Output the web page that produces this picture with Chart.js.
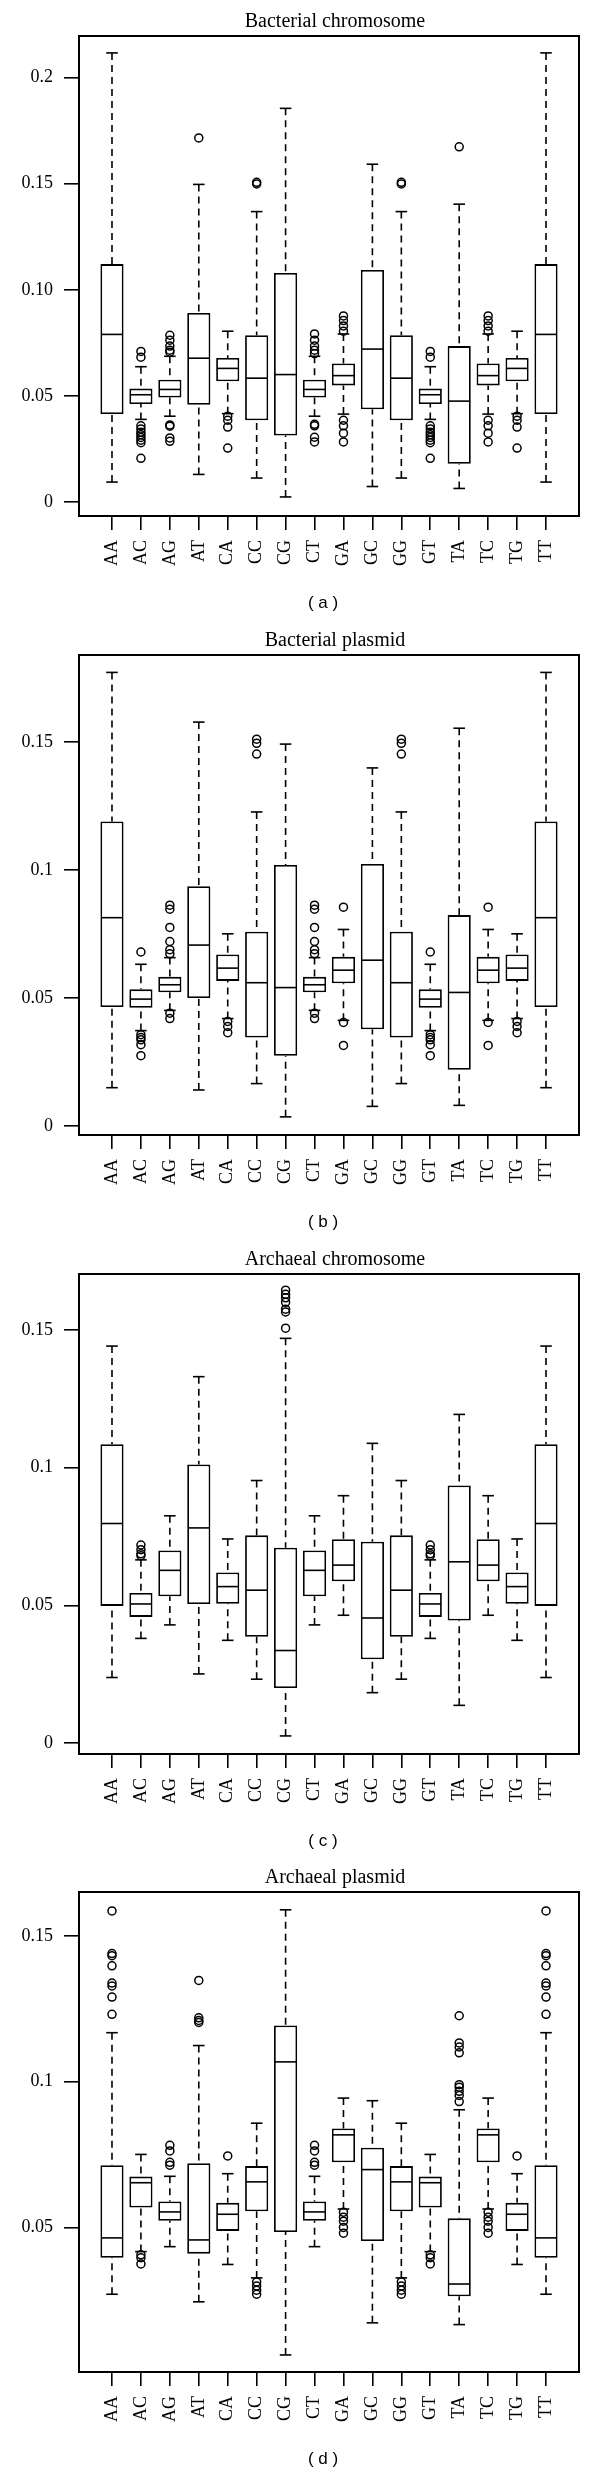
<!DOCTYPE html>
<html>
<head>
<meta charset="utf-8">
<script src="https://cdn.jsdelivr.net/npm/chart.js@4.4.0/dist/chart.umd.min.js"></script>
<style>
body { margin: 0; background: #fff; }
.panel { position: absolute; left: 0; width: 600px; height: 619px; }
</style>
</head>
<body>
<div class="panel" style="top:0px"><canvas id="chartA" width="600" height="619"></canvas></div>
<div class="panel" style="top:619px"><canvas id="chartB" width="600" height="619"></canvas></div>
<div class="panel" style="top:1238px"><canvas id="chartC" width="600" height="619"></canvas></div>
<div class="panel" style="top:1856px"><canvas id="chartD" width="600" height="619"></canvas></div>
<script>
// dinucleotides on the x axis
const categories = ['AA','AC','AG','AT','CA','CC','CG','CT','GA','GC','GG','GT','TA','TC','TG','TT'];

// --- (a) Bacterial chromosome ---
const bcLow  = [0.0095,0.0390,0.0405,0.0131,0.0417,0.0114,0.0025,0.0405,0.0415,0.0074,0.0114,0.0390,0.0065,0.0415,0.0417,0.0095];
const bcQ1   = [0.0415,0.0462,0.0493,0.0459,0.0569,0.0386,0.0314,0.0493,0.0550,0.0438,0.0386,0.0462,0.0181,0.0550,0.0569,0.0415];
const bcMed  = [0.0790,0.0506,0.0531,0.0678,0.0630,0.0584,0.0601,0.0531,0.0596,0.0721,0.0584,0.0506,0.0476,0.0596,0.0630,0.0790];
const bcQ3   = [0.1121,0.0535,0.0577,0.0891,0.0679,0.0786,0.1079,0.0577,0.0653,0.1093,0.0786,0.0535,0.0735,0.0653,0.0679,0.1121];
const bcHigh = [0.2115,0.0638,0.0687,0.1496,0.0805,0.1368,0.1854,0.0687,0.0792,0.1591,0.1368,0.0638,0.1403,0.0792,0.0805,0.2115];
const bcOut  = [
  [],
  [0.0710,0.0683,0.0360,0.0345,0.0330,0.0318,0.0305,0.0292,0.0280,0.0207],
  [0.0786,0.0763,0.0735,0.0716,0.0706,0.0364,0.0358,0.0303,0.0287],
  [0.1715],
  [0.0405,0.0386,0.0354,0.0255],
  [0.1506,0.1498],
  [],
  [0.0792,0.0763,0.0735,0.0716,0.0700,0.0367,0.0360,0.0306,0.0284],
  [0.0877,0.0855,0.0830,0.0805,0.0386,0.0360,0.0325,0.0284],
  [],
  [0.1506,0.1498],
  [0.0710,0.0683,0.0360,0.0345,0.0330,0.0318,0.0305,0.0292,0.0280,0.0207],
  [0.1673],
  [0.0877,0.0855,0.0830,0.0805,0.0386,0.0360,0.0325,0.0284],
  [0.0405,0.0386,0.0354,0.0255],
  []
];
const bcRange = [-0.00647, 0.21945];
const bcTicks = [0, 0.05, 0.10, 0.15, 0.2];
const bcTickLabels = ['0','0.05','0.10','0.15','0.2'];

// --- (b) Bacterial plasmid ---
const bpLow  = [0.0150,0.0373,0.0452,0.0141,0.0420,0.0166,0.0036,0.0452,0.0413,0.0077,0.0166,0.0373,0.0081,0.0413,0.0420,0.0150];
const bpQ1   = [0.0465,0.0462,0.0523,0.0500,0.0567,0.0346,0.0275,0.0523,0.0558,0.0378,0.0346,0.0462,0.0220,0.0558,0.0567,0.0465];
const bpMed  = [0.0814,0.0496,0.0552,0.0707,0.0617,0.0560,0.0541,0.0552,0.0609,0.0648,0.0560,0.0496,0.0522,0.0609,0.0617,0.0814];
const bpQ3   = [0.1190,0.0534,0.0583,0.0937,0.0670,0.0759,0.1020,0.0583,0.0661,0.1024,0.0759,0.0534,0.0824,0.0661,0.0670,0.1190];
const bpHigh = [0.1772,0.0632,0.0658,0.1578,0.0751,0.1227,0.1492,0.0658,0.0768,0.1399,0.1227,0.0632,0.1554,0.0768,0.0751,0.1772];
const bpOut  = [
  [],
  [0.0680,0.0357,0.0346,0.0337,0.0318,0.0275],
  [0.0863,0.0847,0.0776,0.0721,0.0689,0.0673,0.0441,0.0420],
  [],
  [0.0409,0.0389,0.0365],
  [0.1511,0.1495,0.1453],
  [],
  [0.0863,0.0847,0.0776,0.0721,0.0689,0.0673,0.0441,0.0420],
  [0.0855,0.0405,0.0315],
  [],
  [0.1511,0.1495,0.1453],
  [0.0680,0.0357,0.0346,0.0337,0.0318,0.0275],
  [],
  [0.0855,0.0405,0.0315],
  [0.0409,0.0389,0.0365],
  []
];
const bpRange = [-0.00348, 0.1840];
const bpTicks = [0, 0.05, 0.1, 0.15];
const bpTickLabels = ['0','0.05','0.1','0.15'];

// --- (c) Archaeal chromosome ---
const acLow  = [0.0238,0.0380,0.0429,0.0251,0.0373,0.0232,0.0026,0.0429,0.0464,0.0183,0.0232,0.0380,0.0137,0.0464,0.0373,0.0238];
const acQ1   = [0.0498,0.0458,0.0533,0.0505,0.0506,0.0386,0.0200,0.0533,0.0587,0.0304,0.0386,0.0458,0.0445,0.0587,0.0506,0.0498];
const acMed  = [0.0797,0.0505,0.0627,0.0781,0.0568,0.0555,0.0336,0.0627,0.0646,0.0454,0.0555,0.0505,0.0658,0.0646,0.0568,0.0797];
const acQ3   = [0.1085,0.0545,0.0699,0.1011,0.0619,0.0754,0.0709,0.0699,0.0740,0.0731,0.0754,0.0545,0.0935,0.0740,0.0619,0.1085];
const acHigh = [0.1441,0.0665,0.0825,0.1330,0.0741,0.0953,0.1469,0.0825,0.0898,0.1088,0.0953,0.0665,0.1193,0.0898,0.0741,0.1441];
const acOut  = [
  [],
  [0.0719,0.0702,0.0687,0.0680],
  [], [], [], [],
  [0.1644,0.1629,0.1616,0.1600,0.1575,0.1565,0.1506],
  [], [], [], [],
  [0.0719,0.0702,0.0687,0.0680],
  [], [], [], []
];
const acRange = [-0.00396, 0.17026];
const acTicks = [0, 0.05, 0.1, 0.15];
const acTickLabels = ['0','0.05','0.1','0.15'];

// --- (d) Archaeal plasmid ---
const apLow  = [0.0272,0.0418,0.0435,0.0246,0.0374,0.0328,0.0064,0.0435,0.0564,0.0174,0.0328,0.0418,0.0168,0.0564,0.0374,0.0272];
const apQ1   = [0.0397,0.0569,0.0524,0.0411,0.0489,0.0556,0.0485,0.0524,0.0724,0.0454,0.0556,0.0569,0.0265,0.0724,0.0489,0.0397];
const apMed  = [0.0465,0.0654,0.0554,0.0458,0.0546,0.0657,0.1068,0.0554,0.0818,0.0699,0.0657,0.0654,0.0307,0.0818,0.0546,0.0465];
const apQ3   = [0.0714,0.0675,0.0590,0.0721,0.0585,0.0711,0.1193,0.0590,0.0840,0.0774,0.0711,0.0675,0.0532,0.0840,0.0585,0.0714];
const apHigh = [0.1168,0.0751,0.0676,0.1124,0.0685,0.0858,0.1589,0.0676,0.0944,0.0935,0.0858,0.0751,0.0904,0.0944,0.0685,0.1168];
const apOut  = [
  [0.1585,0.1439,0.1432,0.1397,0.1338,0.1328,0.1290,0.1231],
  [0.0407,0.0397,0.0376],
  [0.0782,0.0763,0.0724,0.0714],
  [0.1347,0.1219,0.1210,0.1203],
  [0.0746],
  [0.0314,0.0300,0.0286,0.0272],
  [],
  [0.0782,0.0763,0.0724,0.0714],
  [0.0553,0.0536,0.0522,0.0501,0.0481],
  [],
  [0.0314,0.0300,0.0286,0.0272],
  [0.0407,0.0397,0.0376],
  [0.1226,0.1133,0.1119,0.1099,0.0990,0.0981,0.0967,0.0953,0.0932],
  [0.0553,0.0536,0.0522,0.0501,0.0481],
  [0.0746],
  [0.1585,0.1439,0.1432,0.1397,0.1338,0.1328,0.1290,0.1231]
];
const apRange = [0.00056, 0.1650];
const apTicks = [0.05, 0.1, 0.15];
const apTickLabels = ['0.05','0.1','0.15'];

const serif = "'Liberation Serif', 'Times New Roman', serif";

// whiskers, caps, medians, frame and panel texts
const boxParts = {
  id: 'boxParts',
  afterDatasetsDraw(chart, args, o) {
    const { ctx, chartArea } = chart;
    const xs = chart.scales.x, ys = chart.scales.y;
    const seg = (x1, y1, x2, y2) => { ctx.beginPath(); ctx.moveTo(x1, y1); ctx.lineTo(x2, y2); ctx.stroke(); };
    ctx.save();
    ctx.strokeStyle = '#000';
    ctx.lineWidth = 1.6;
    o.low.forEach((lo, i) => {
      const cx = xs.getPixelForValue(i + 1);
      const boxHalf = xs.getPixelForValue(i + 1.4) - cx;
      const capHalf = xs.getPixelForValue(i + 1.2) - cx;
      ctx.setLineDash([]);
      seg(cx - boxHalf + 1, ys.getPixelForValue(o.med[i]), cx + boxHalf - 1, ys.getPixelForValue(o.med[i]));
      seg(cx - capHalf, ys.getPixelForValue(lo), cx + capHalf, ys.getPixelForValue(lo));
      seg(cx - capHalf, ys.getPixelForValue(o.high[i]), cx + capHalf, ys.getPixelForValue(o.high[i]));
      ctx.setLineDash([7, 5]);
      seg(cx, ys.getPixelForValue(lo), cx, ys.getPixelForValue(o.q1[i]));
      seg(cx, ys.getPixelForValue(o.high[i]), cx, ys.getPixelForValue(o.q3[i]));
    });
    ctx.setLineDash([]);
    ctx.lineWidth = 2;
    ctx.strokeRect(chartArea.left, chartArea.top, chartArea.width, chartArea.height);

    const mid = (chartArea.left + chartArea.right) / 2;
    ctx.fillStyle = '#000';
    ctx.textAlign = 'center';
    ctx.textBaseline = 'alphabetic';
    ctx.font = "20px " + serif;
    ctx.fillText(o.title, mid + 6, chartArea.top - 9);
    ctx.textBaseline = 'middle';
    ctx.font = "17px 'Liberation Sans', Arial, sans-serif";
    ctx.fillText(o.tag, mid - 6, 603);
    ctx.restore();
  }
};

function makePanel(id, title, tag, low, q1, med, q3, high, out, range, yTicks, yLabels) {
  const boxes = categories.map((c, i) => ({ x: i + 1, y: [q1[i], q3[i]] }));
  const points = [];
  out.forEach((vals, i) => vals.forEach(v => points.push({ x: i + 1, y: v })));

  return new Chart(document.getElementById(id), {
    type: 'bar',
    data: {
      datasets: [
        {
          type: 'bar',
          data: boxes,
          backgroundColor: '#fff',
          borderColor: '#000',
          borderWidth: 1.8,
          borderSkipped: false,
          categoryPercentage: 1,
          barPercentage: 0.8
        },
        {
          type: 'scatter',
          data: points,
          pointStyle: 'circle',
          pointRadius: 4,
          pointBorderWidth: 1.5,
          pointBorderColor: '#000',
          pointBackgroundColor: 'rgba(0,0,0,0)'
        }
      ]
    },
    options: {
      responsive: false,
      animation: false,
      layout: { padding: { top: 36, right: 21, bottom: 0, left: 0 } },
      plugins: {
        legend: { display: false },
        tooltip: { enabled: false },
        boxParts: { title, tag, low, q1, med, q3, high }
      },
      scales: {
        x: {
          type: 'linear',
          min: -0.14,
          max: 17.14,
          offset: false,
          afterBuildTicks: s => { s.ticks = categories.map((c, i) => ({ value: i + 1 })); },
          afterFit: s => { s.height = 103; },
          grid: { drawOnChartArea: false, tickLength: 14, color: '#000', lineWidth: 1.6, offset: false },
          border: { display: false },
          ticks: {
            autoSkip: false,
            minRotation: 90,
            maxRotation: 90,
            padding: 10,
            color: '#000',
            font: { family: serif, size: 18 },
            callback: v => categories[Math.round(v) - 1]
          }
        },
        y: {
          type: 'linear',
          min: range[0],
          max: range[1],
          afterBuildTicks: s => { s.ticks = yTicks.map(v => ({ value: v })); },
          afterFit: s => { s.width = 79; },
          grid: { drawOnChartArea: false, tickLength: 15, color: '#000', lineWidth: 1.6 },
          border: { display: false },
          ticks: {
            padding: 11,
            color: '#000',
            font: { family: serif, size: 18 },
            callback: (v, i) => yLabels[i]
          }
        }
      }
    },
    plugins: [boxParts]
  });
}

makePanel('chartA', 'Bacterial chromosome', '( a )', bcLow, bcQ1, bcMed, bcQ3, bcHigh, bcOut, bcRange, bcTicks, bcTickLabels);
makePanel('chartB', 'Bacterial plasmid', '( b )', bpLow, bpQ1, bpMed, bpQ3, bpHigh, bpOut, bpRange, bpTicks, bpTickLabels);
makePanel('chartC', 'Archaeal chromosome', '( c )', acLow, acQ1, acMed, acQ3, acHigh, acOut, acRange, acTicks, acTickLabels);
makePanel('chartD', 'Archaeal plasmid', '( d )', apLow, apQ1, apMed, apQ3, apHigh, apOut, apRange, apTicks, apTickLabels);
</script>
</body>
</html>
